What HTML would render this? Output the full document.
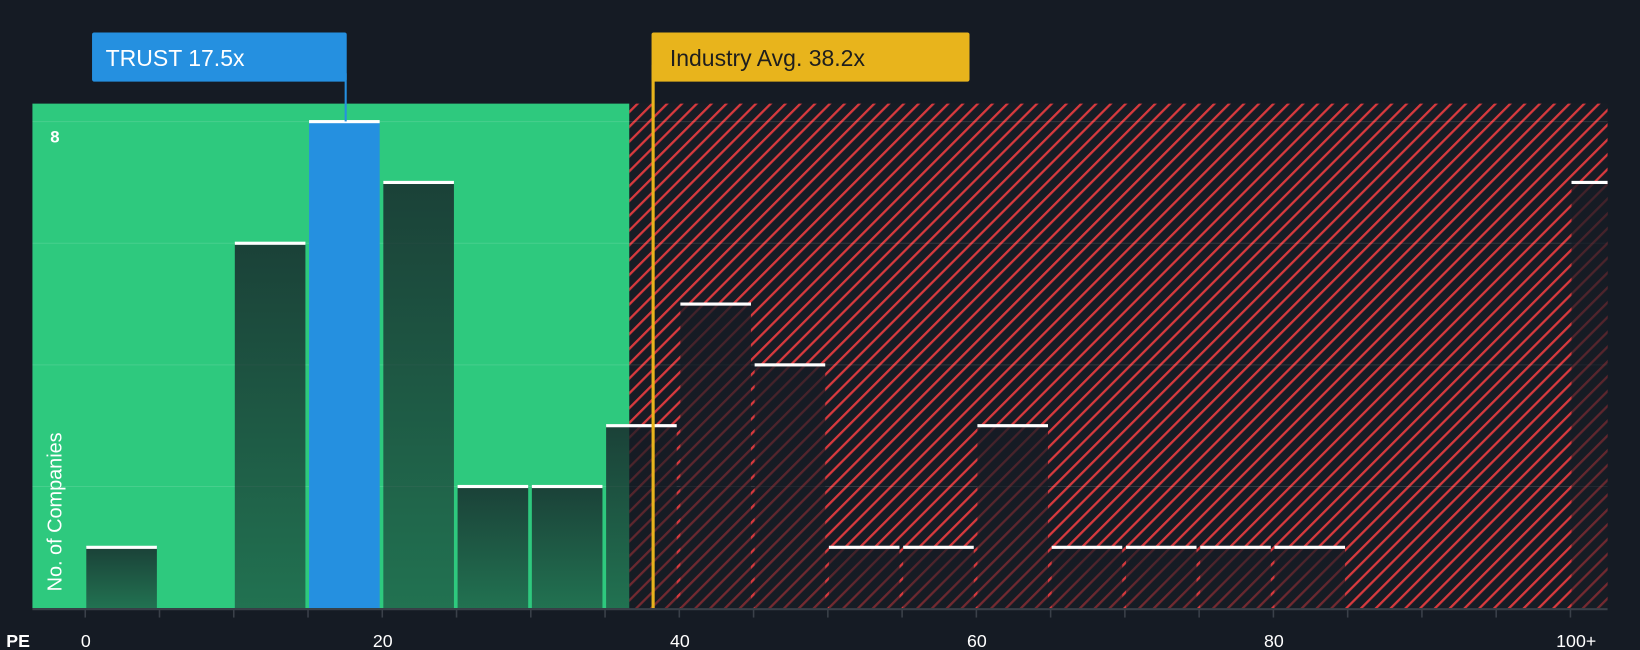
<!DOCTYPE html>
<html><head><meta charset="utf-8"><style>
html,body{margin:0;padding:0;background:#151b24;}
svg{display:block;font-family:"Liberation Sans",sans-serif;}
</style></head><body>
<svg id="chart" width="1640" height="650" viewBox="0 0 1568 621" preserveAspectRatio="none" xmlns="http://www.w3.org/2000/svg">
<defs>
<pattern id="hatch" patternUnits="userSpaceOnUse" width="10" height="10" patternTransform="rotate(45)">
<rect width="10" height="10" fill="#171c25"/>
<rect x="0" y="0" width="2.2" height="10" fill="#d83a3e"/>
</pattern>
<linearGradient id="barg" x1="0" y1="0" x2="0" y2="1">
<stop offset="0" stop-color="#151b24" stop-opacity="0.78"/>
<stop offset="1" stop-color="#151b24" stop-opacity="0.5"/>
</linearGradient>
<clipPath id="plotclip"><rect x="31" y="99" width="1506" height="482"/></clipPath>
</defs>
<rect width="1568" height="621" fill="#151b24"/>
<g id="bg"></g>
<g id="grid"></g>
<g id="bars" clip-path="url(#plotclip)"></g>
<g id="overlay"></g>
<g id="axis"></g>
</svg>
<script>
const binStarts = [0,5,10,15,20,25,30,35,40,45,50,55,60,65,70,75,80,85,90,95,100];
const counts    = [1,0,6,8,7,2,2,3,5,4,1,1,3,1,1,1,1,0,0,0,7];
const xTicks = [0,20,40,60,80];
const xTickLabels = ["0","20","40","60","80"];
const yTicks = [8];
const companyPE = 17.5;
const industryPE = 38.2;
const fairEnd = 36.6;
const binWidth = 5;

const NS="http://www.w3.org/2000/svg";
const L=31,R=1537,T=99,B=581;
const xs=v=>82+v*14.2;
const ys=v=>B-v*58.1;
function mk(tag,attrs,parent){const e=document.createElementNS(NS,tag);for(const k in attrs)e.setAttribute(k,attrs[k]);parent.appendChild(e);return e;}
const bg=document.getElementById('bg'),grid=document.getElementById('grid'),bars=document.getElementById('bars'),ov=document.getElementById('overlay'),ax=document.getElementById('axis');

let g=mk('rect',{x:L,y:T,width:xs(fairEnd)-L,height:B-T,fill:'#2ec97e'},bg);


let h=mk('rect',{x:xs(fairEnd),y:T,width:R-xs(fairEnd),height:B-T,fill:'url(#hatch)'},bg);



[2,4,6,8].forEach(v=>{const l=mk('line',{x1:L,x2:R,y1:ys(v),y2:ys(v),stroke:'#ffffff','stroke-opacity':0.12,'stroke-width':1},grid);

});

binStarts.forEach((b,i)=>{const c=counts[i];if(!c)return;
const x0=xs(b)+0.5,x1=xs(b+binWidth)-3,y=ys(c);
const isCo=companyPE>=b&&companyPE<b+binWidth;
const r=mk('rect',{x:x0,y:y,width:x1-x0,height:B-y,fill:isCo?'#2590e0':'url(#barg)'},bars);


const t=mk('rect',{x:x0,y:y-1.5,width:x1-x0,height:3,fill:'#ffffff'},bars);

});

const ix=xs(industryPE);
let il=mk('line',{x1:ix,x2:ix,y1:62,y2:B,stroke:'#e8b41c','stroke-width':3},ov);


let ib=mk('rect',{x:ix-1.5,y:31,width:304,height:47,rx:2,fill:'#e8b41c'},ov);


let it=mk('text',{x:ix+16,y:63,'font-size':22,fill:'#1e1e1e'},ov);it.textContent='Industry Avg. '+industryPE.toFixed(1)+'x';



const cx=xs(companyPE);
let cl=mk('line',{x1:cx,x2:cx,y1:70,y2:116,stroke:'#2590e0','stroke-width':2},ov);


let cb=mk('rect',{x:88,y:31,width:cx-88+1,height:47,rx:2,fill:'#2590e0'},ov);


let ct=mk('text',{x:101,y:63,'font-size':22,fill:'#ffffff'},ov);ct.textContent='TRUST '+companyPE+'x';



yTicks.forEach(v=>{const t=mk('text',{x:48,y:ys(v)+20,'font-size':16,'font-weight':'bold',fill:'#ffffff'},ov);t.textContent=v;

});
let yt=mk('text',{x:59,y:565,'font-size':19,fill:'#ffffff',transform:'rotate(-90 59 565)'},ov);yt.textContent='No. of Companies';



let al=mk('rect',{x:L,y:B,width:R-L,height:2,fill:'#3a4049'},ax);


binStarts.forEach(b=>{const tk=mk('line',{x1:xs(b)-0.5,x2:xs(b)-0.5,y1:B,y2:B+9,stroke:'#3a4049','stroke-width':1.5},ax);

});
let pe=mk('text',{x:6,y:618,'font-size':17,'font-weight':'bold',fill:'#ffffff'},ax);pe.textContent='PE';


xTicks.forEach((v,i)=>{const t=mk('text',{x:xs(v),y:618,'font-size':17,'text-anchor':'middle',fill:'#ffffff'},ax);t.textContent=xTickLabels[i];

});
let t100=mk('text',{x:xs(100)+5,y:618,'font-size':17,'text-anchor':'middle',fill:'#ffffff'},ax);t100.textContent='100+';


</script>
</body></html>
